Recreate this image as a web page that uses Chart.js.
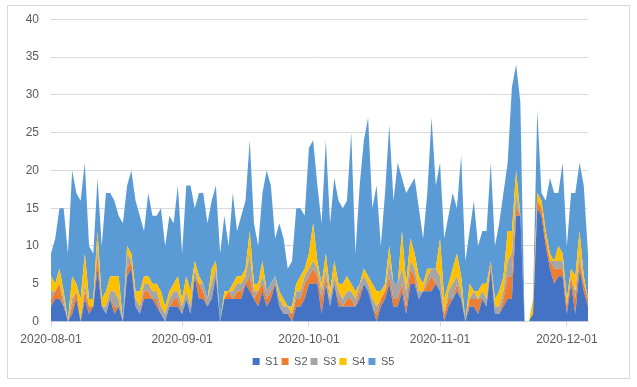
<!DOCTYPE html>
<html>
<head>
<meta charset="utf-8">
<script src="https://cdn.jsdelivr.net/npm/chart.js@4/dist/chart.umd.min.js"></script>
<style>
  html, body { margin: 0; padding: 0; background: #fff; }
  #wrap { position: relative; width: 637px; height: 387px; }
</style>
</head>
<body>
<div id="wrap"><canvas id="chart"></canvas></div>
<script>
const startDate = '2020-08-01';
const seriesNames = ['S1', 'S2', 'S3', 'S4', 'S5'];
const seriesColors = ['#4472C4', '#ED7D31', '#A5A5A5', '#FFC000', '#5B9BD5'];
const yTicks = [0, 5, 10, 15, 20, 25, 30, 35, 40];

// daily values, 2020-08-01 .. 2020-12-06
const s1 = [2,3,3,2,0,1,3,0,3,1, 2,7,2,1,3,1,2,0,6,7, 2,1,3,3,3,2,1,0,2,2,
  2,1,3,1,6,3,3,2,3,6, 0,3,3,3,3,3,5,4,3,2, 4,2,3,5,2,1,1,0,2,2,
  3,5,5,5,1,5,2,5,2,2, 2,2,2,3,5,4,2,0,2,3, 5,2,2,4,1,5,5,3,4,4,
  4,5,4,0,2,3,4,3,0,2, 2,1,3,2,7,1,1,2,3,3, 14,14,0,0,1,15,14,10,7,5,
  6,6,1,5,1,7,4,2];
const s2 = [1,1,2,0,0,1,1,0,1,1, 0,2,0,0,0,1,0,0,1,1, 0,0,1,1,0,1,0,0,0,1,
  1,0,0,0,0,2,1,0,0,0, 0,0,1,0,1,1,0,2,0,2, 1,1,1,0,0,0,0,1,1,1,
  2,1,2,1,2,1,0,0,1,0, 1,1,0,1,0,0,0,1,1,1, 1,1,1,1,1,2,1,0,0,1,
  2,0,0,1,1,0,1,0,0,1, 1,2,0,0,1,0,0,1,3,3, 1,0,0,0,0,1,1,1,1,2,
  1,1,1,1,2,1,1,1];
const s3 = [1,0,0,1,0,1,0,0,1,0, 0,1,0,1,1,2,1,0,2,0, 1,1,1,1,1,1,1,1,1,1,
  1,1,1,1,1,0,1,1,2,1, 0,0,0,1,1,1,1,3,1,0, 1,1,1,1,1,1,1,0,1,1,
  1,1,1,1,1,1,1,1,1,1, 1,1,1,1,1,1,1,1,0,0, 2,2,2,2,2,1,1,1,0,1,
  1,2,2,0,1,2,1,1,0,0, 1,0,1,1,0,1,1,1,2,3, 2,0,0,0,0,0,0,0,0,1,
  1,1,0,0,1,1,0,0];
const s4 = [2,1,2,1,0,3,1,3,4,1, 1,2,1,2,2,2,3,0,1,1, 1,2,1,1,1,1,2,1,1,1,
  2,1,2,2,1,1,0,0,2,1, 0,1,0,1,1,1,1,3,1,1, 2,0,0,0,1,1,0,1,1,2,
  1,2,5,1,1,2,1,2,1,2, 2,1,1,0,1,1,2,2,1,1, 2,0,0,5,1,3,2,2,1,1,
  0,0,5,2,1,2,3,2,0,2, 0,1,1,2,0,1,2,2,4,3, 3,0,0,0,2,1,1,1,1,0,
  2,1,1,1,2,3,1,0];
const s5 = [3,6,8,11,9,14,12,13,12,7, 6,7,7,13,11,10,8,13,8,11, 12,10,6,11,9,9,11,8,10,8,
  12,6,12,14,7,11,12,10,9,10, 9,10,6,12,6,8,9,12,8,5, 9,16,13,5,9,8,5,6,10,9,
  7,14,11,10,8,15,9,11,11,10, 10,20,5,13,17,21,10,14,6,12, 16,11,16,7,12,7,10,9,6,10,
  20,11,10,8,9,10,6,16,8,7, 12,6,7,7,13,7,9,11,9,19, 14,15,0,0,0,11,1,4,10,9,
  7,12,7,10,11,9,12,6];

function dayLabels(start, n) {
  const out = [];
  const d = new Date(start + 'T00:00:00Z');
  for (let i = 0; i < n; i++) {
    out.push(d.toISOString().slice(0, 10));
    d.setUTCDate(d.getUTCDate() + 1);
  }
  return out;
}

const dates = dayLabels(startDate, s1.length);
const allSeries = [s1, s2, s3, s4, s5];

const frame = {
  id: 'frame',
  beforeDraw(chart) {
    const c = chart.ctx;
    c.save();
    c.fillStyle = '#fff';
    c.fillRect(0, 0, chart.width, chart.height);
    c.strokeStyle = '#d9d9d9';
    c.lineWidth = 1;
    c.strokeRect(7.5, 5.5, 622, 373);
    c.restore();
  }
};

const datasets = allSeries.map((data, i) => ({
  label: seriesNames[i],
  data,
  backgroundColor: seriesColors[i],
  borderColor: seriesColors[i],
  borderWidth: 0,
  pointRadius: 0,
  tension: 0,
  fill: i === 0 ? 'origin' : '-1'
}));

new Chart(document.getElementById('chart'), {
  type: 'line',
  data: { labels: dates, datasets },
  options: {
    responsive: true,
    maintainAspectRatio: false,
    animation: false,
    layout: { padding: { left: 10, right: 0, top: 12, bottom: 10 } },
    plugins: {
      tooltip: { enabled: false },
      legend: {
        position: 'bottom',
        labels: {
          boxWidth: 7,
          boxHeight: 7,
          padding: 3,
          color: '#595959',
          font: { family: 'Liberation Sans', size: 11 }
        }
      }
    },
    scales: {
      x: {
        type: 'category',
        offset: false,
        afterBuildTicks(scale) {
          scale.ticks = scale.ticks.filter((t) => dates[t.value].endsWith('-01'));
        },
        afterFit(scale) {
          // let the first date label hang outside the plot like Excel does
          scale.paddingLeft = 0;
          scale.paddingRight = 0;
        },
        ticks: {
          autoSkip: false,
          maxRotation: 0,
          padding: 6,
          color: '#595959',
          font: { family: 'Liberation Sans', size: 12 }
        },
        grid: {
          drawOnChartArea: false,
          drawTicks: true,
          tickLength: 5,
          color: '#d9d9d9'
        },
        border: { color: '#d9d9d9' }
      },
      y: {
        stacked: true,
        min: 0,
        max: 40,
        afterBuildTicks(scale) {
          scale.ticks = yTicks.map((v) => ({ value: v }));
        },
        afterFit(scale) {
          scale.width = 41;
        },
        ticks: {
          padding: 12,
          color: '#595959',
          font: { family: 'Liberation Sans', size: 12 }
        },
        grid: { color: '#d9d9d9', drawTicks: false },
        border: { display: false }
      },
      // empty right-hand gutter, keeps the legend centred like the original
      gutter: {
        type: 'linear',
        position: 'right',
        ticks: { display: false },
        grid: { display: false },
        border: { display: false },
        afterFit(scale) {
          scale.width = 49;
        }
      }
    }
  },
  plugins: [frame]
});
</script>
</body>
</html>
